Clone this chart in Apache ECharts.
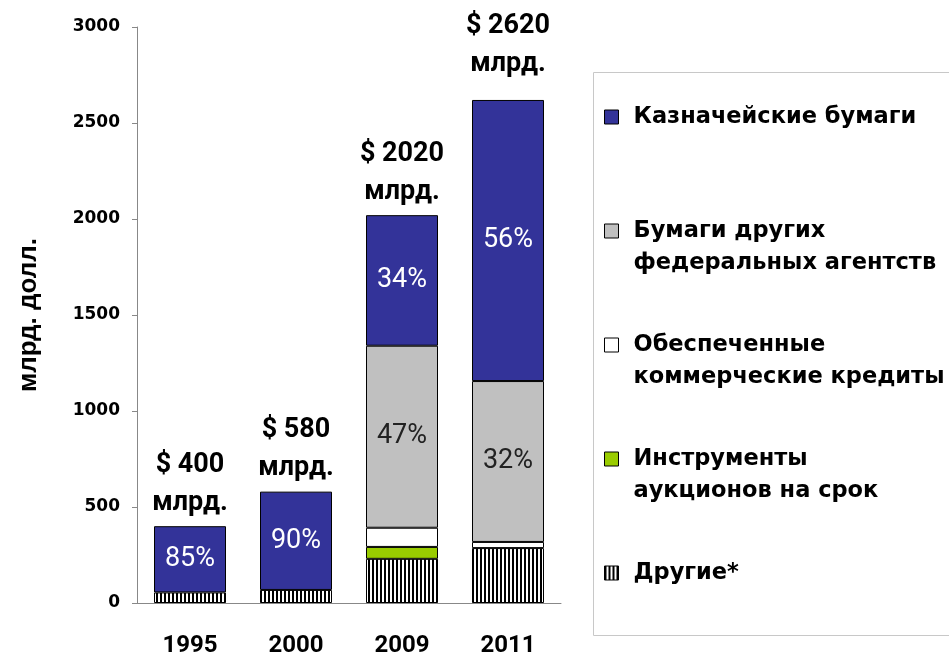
<!DOCTYPE html>
<html>
<head>
<meta charset="utf-8">
<script src="https://cdn.jsdelivr.net/npm/echarts@6/dist/echarts.min.js"></script>
<style>
  html, body { margin: 0; padding: 0; background: #fff; }
  #chart { width: 949px; height: 660px; }
</style>
</head>
<body>
<div id="chart"></div>
<script>
// data (billions of dollars)
var years = ['1995', '2000', '2009', '2011'];
var other = [55, 68, 230, 286];
var auction = [0, 0, 62, 0];
var secured = [0, 0, 100, 32];
var agency = [0, 0, 948, 838];
var treasury = [345, 512, 680, 1464];
var totals = [400, 580, 2020, 2620];
var treasuryPct = ['85%', '90%', '34%', '56%'];
var agencyPct = ['', '', '47%', '32%'];

var names = {
  treasury: 'Казначейские бумаги',
  agency: 'Бумаги других федеральных агентств',
  secured: 'Обеспеченные коммерческие кредиты',
  auction: 'Инструменты аукционов на срок',
  other: 'Другие*'
};
// legend lines; a blank first line keeps the icon beside the first text line
var legendText = {};
legendText[names.treasury] = ' \nКазначейские бумаги\n ';
legendText[names.agency] = ' \nБумаги других\nфедеральных агентств';
legendText[names.secured] = ' \nОбеспеченные\nкоммерческие кредиты';
legendText[names.auction] = ' \nИнструменты\nаукционов на срок';
legendText[names.other] = ' \nДругие*\n ';

// vertical stripes for "Другие*"
var hatch = document.createElement('canvas');
hatch.width = 4; hatch.height = 4;
var hctx = hatch.getContext('2d');
hctx.fillStyle = '#fff'; hctx.fillRect(0, 0, 4, 4);
hctx.fillStyle = '#000'; hctx.fillRect(0, 0, 2, 4);

function vals(arr) {
  return arr.map(function (v) { return v === 0 ? null : v; });
}

function part(name, data, color, label) {
  return {
    name: name,
    type: 'bar',
    stack: 'all',
    barWidth: 72,
    barGap: '-100%',
    data: vals(data),
    itemStyle: { color: color, borderColor: '#000', borderWidth: 1 },
    label: label || { show: false }
  };
}

var chart = echarts.init(document.getElementById('chart'));
chart.setOption({
  animation: false,
  grid: { left: 137, right: 388, top: 27, bottom: 57 },
  graphic: [{
    type: 'rect',
    shape: { x: 593.5, y: 72.5, width: 400, height: 563 },
    style: { fill: 'none', stroke: '#c8c8c8', lineWidth: 1 }
  }],
  legend: {
    orient: 'vertical',
    left: 604,
    top: 69,
    padding: 0,
    itemGap: 18,
    itemWidth: 14,
    itemHeight: 14,
    icon: 'rect',
    itemStyle: { borderColor: '#000', borderWidth: 1 },
    data: [names.treasury, names.agency, names.secured, names.auction, names.other],
    formatter: function (n) { return legendText[n]; },
    textStyle: {
      fontFamily: 'DejaVu Sans',
      fontWeight: 'bold',
      fontSize: 22.5,
      lineHeight: 32,
      color: '#000',
      padding: [0, 0, 0, 10]
    }
  },
  xAxis: {
    type: 'category',
    data: years,
    axisLine: { lineStyle: { color: '#888' } },
    axisTick: { length: 8, lineStyle: { color: '#888' } },
    axisLabel: {
      margin: 31,
      color: '#000',
      fontFamily: 'Roboto',
      fontWeight: 'bold',
      fontSize: 24
    }
  },
  yAxis: {
    type: 'value',
    min: 0,
    max: 3000,
    interval: 500,
    name: 'млрд. долл.',
    nameLocation: 'middle',
    nameRotate: 90,
    nameGap: 95,
    nameTextStyle: {
      fontFamily: 'Liberation Sans',
      fontWeight: 'bold',
      fontSize: 26,
      color: '#000'
    },
    splitLine: { show: false },
    axisLine: { show: true, lineStyle: { color: '#888' } },
    axisTick: { show: true, length: 5, lineStyle: { color: '#888' } },
    axisLabel: {
      margin: 17,
      color: '#000',
      fontFamily: 'DejaVu Sans',
      fontWeight: 'bold',
      fontSize: 17,
      formatter: function (v) { return String(v); }
    }
  },
  series: [
    part(names.other, other, { image: hatch, repeat: 'repeat' }),
    part(names.auction, auction, '#99cc00'),
    part(names.secured, secured, '#ffffff'),
    part(names.agency, agency, '#c0c0c0', {
      show: true,
      position: 'inside',
      color: '#222',
      fontFamily: 'Roboto',
      fontSize: 27,
      formatter: function (p) { return agencyPct[p.dataIndex]; }
    }),
    part(names.treasury, treasury, '#333399', {
      show: true,
      position: 'inside',
      color: '#fff',
      fontFamily: 'Roboto',
      fontSize: 27,
      formatter: function (p) { return treasuryPct[p.dataIndex]; }
    }),
    {
      name: 'total',
      type: 'bar',
      barWidth: 72,
      barGap: '-100%',
      silent: true,
      z: 1,
      itemStyle: { color: 'transparent' },
      data: totals.map(function (v, i) {
        return i === 3 ? { value: v, label: { distance: 17 } } : v;
      }),
      label: {
        show: true,
        position: 'top',
        distance: 4,
        fontFamily: 'Roboto',
        fontWeight: 'bold',
        fontSize: 27,
        lineHeight: 38,
        color: '#000',
        formatter: function (p) { return '$ ' + totals[p.dataIndex] + '\nмлрд.'; }
      }
    }
  ]
});
</script>
</body>
</html>
